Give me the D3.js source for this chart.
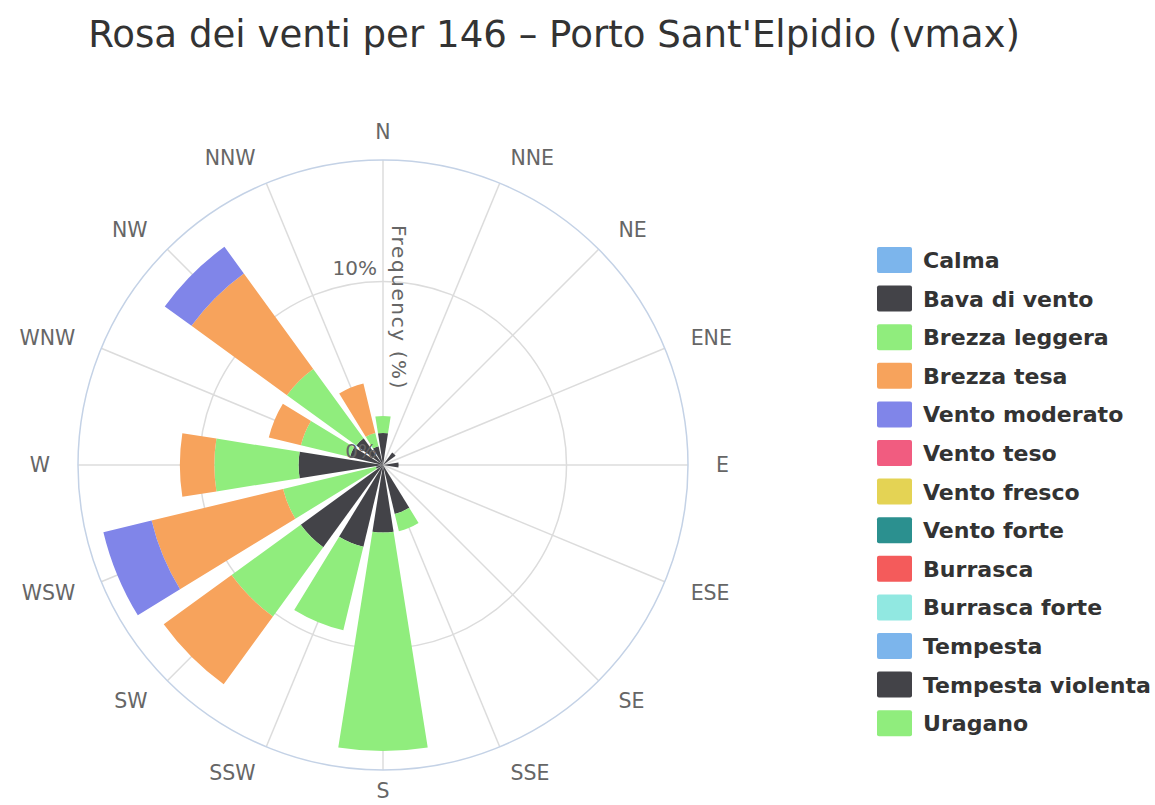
<!DOCTYPE html>
<html>
<head>
<meta charset="utf-8">
<script src="https://d3js.org/d3.v7.min.js"></script>
<style>
  body { margin: 0; background: #fff; }
  text { font-family: "DejaVu Sans", sans-serif; }
</style>
</head>
<body>
<script>

var width = 1155, height = 805;
var cx = 383, cy = 465, outerR = 305;

// categories
var directions = ["N", "NNE", "NE", "ENE", "E", "ESE", "SE", "SSE",
                  "S", "SSW", "SW", "WSW", "W", "WNW", "NW", "NNW"];

var seriesNames = ["Calma", "Bava di vento", "Brezza leggera", "Brezza tesa",
                   "Vento moderato", "Vento teso", "Vento fresco", "Vento forte",
                   "Burrasca", "Burrasca forte", "Tempesta", "Tempesta violenta", "Uragano"];

var seriesColors = ["#7cb5ec", "#434348", "#90ed7d", "#f7a35c", "#8085e9", "#f15c80",
                    "#e4d354", "#2b908f", "#f45b5b", "#91e8e1", "#7cb5ec", "#434348", "#90ed7d"];

// frequency (%) per direction, N ... NNW
var calma          = [0, 0, 0, 0, 0, 0, 0, 0, 0, 0, 0, 0, 0, 0, 0, 0];
var bavaDiVento    = [1.75, 0, 0.85, 0, 0.85, 0, 0, 2.74, 3.68, 4.58, 5.54, 0.4, 4.6, 1.85, 1.8, 1.05];
var brezzaLeggera  = [0.92, 0, 0, 0, 0, 0, 0, 0.97, 11.9, 4.68, 4.66, 5.2, 4.59, 2.75, 4.67, 0.75];
var brezzaTesa     = [0, 0, 0, 0, 0, 0, 0, 0, 0, 0, 4.57, 7.37, 1.88, 1.8, 6.43, 2.77];
var ventoModerato  = [0, 0, 0, 0, 0, 0, 0, 0, 0, 0, 0, 2.7, 0, 0, 1.8, 0];
var ventoTeso      = [0, 0, 0, 0, 0, 0, 0, 0, 0, 0, 0, 0, 0, 0, 0, 0];
var ventoFresco    = [0, 0, 0, 0, 0, 0, 0, 0, 0, 0, 0, 0, 0, 0, 0, 0];
var ventoForte     = [0, 0, 0, 0, 0, 0, 0, 0, 0, 0, 0, 0, 0, 0, 0, 0];
var burrasca       = [0, 0, 0, 0, 0, 0, 0, 0, 0, 0, 0, 0, 0, 0, 0, 0];
var burrascaForte  = [0, 0, 0, 0, 0, 0, 0, 0, 0, 0, 0, 0, 0, 0, 0, 0];
var tempesta       = [0, 0, 0, 0, 0, 0, 0, 0, 0, 0, 0, 0, 0, 0, 0, 0];
var tempestaViol   = [0, 0, 0, 0, 0, 0, 0, 0, 0, 0, 0, 0, 0, 0, 0, 0];
var uragano        = [0, 0, 0, 0, 0, 0, 0, 0, 0, 0, 0, 0, 0, 0, 0, 0];

var yTicks = [0, 10];
var yMax = 16.62;

var allSeries = [calma, bavaDiVento, brezzaLeggera, brezzaTesa, ventoModerato, ventoTeso,
                 ventoFresco, ventoForte, burrasca, burrascaForte, tempesta, tempestaViol, uragano];

var table = directions.map(function(d, i) {
  var row = {dir: d};
  seriesNames.forEach(function(name, k) { row[name] = allSeries[k][i]; });
  return row;
});

var svg = d3.select("body").append("svg")
            .attr("width", width)
            .attr("height", height);

var step = 2 * Math.PI / directions.length;
var angle = d3.scaleBand()
              .domain(directions)
              .range([-step / 2, 2 * Math.PI - step / 2])
              .paddingInner(0.2)
              .paddingOuter(0.1);

var r = d3.scaleLinear().domain([0, yMax]).range([0, outerR]);

var color = d3.scaleOrdinal().domain(seriesNames).range(seriesColors);

function mid(d) { return angle(d) + angle.bandwidth() / 2; }

var g = svg.append("g").attr("transform", "translate(" + cx + "," + cy + ")");

// radial grid lines
g.selectAll(".spoke")
  .data(directions)
  .enter().append("line")
  .attr("x1", 0).attr("y1", 0)
  .attr("x2", function(d) { return outerR * Math.sin(mid(d)); })
  .attr("y2", function(d) { return -outerR * Math.cos(mid(d)); })
  .attr("stroke", "#dcdcdc")
  .attr("stroke-width", 1.5);

// circular grid
g.selectAll(".ring")
  .data(yTicks.filter(function(t) { return t > 0; }))
  .enter().append("circle")
  .attr("r", function(t) { return r(t); })
  .attr("fill", "none")
  .attr("stroke", "#dcdcdc")
  .attr("stroke-width", 1.5);

g.append("circle")
  .attr("r", outerR)
  .attr("fill", "none")
  .attr("stroke", "#c4d2e6")
  .attr("stroke-width", 1.5);

// stacked bars
var stacked = d3.stack().keys(seriesNames)(table);

var arc = d3.arc()
  .innerRadius(function(d) { return r(d[0]); })
  .outerRadius(function(d) { return r(d[1]); })
  .startAngle(function(d) { return angle(d.data.dir); })
  .endAngle(function(d) { return angle(d.data.dir) + angle.bandwidth(); });

g.selectAll(".layer")
  .data(stacked)
  .enter().append("g")
  .attr("fill", function(d) { return color(d.key); })
  .selectAll("path")
  .data(function(d) { return d.filter(function(p) { return p[1] > p[0]; }); })
  .enter().append("path")
  .attr("d", arc);

// y axis labels
g.selectAll(".ylab")
  .data(yTicks)
  .enter().append("text")
  .attr("x", -6)
  .attr("y", function(t) { return -r(t) - 7; })
  .attr("text-anchor", "end")
  .attr("font-size", 20)
  .attr("fill", "#666")
  .text(function(t) { return t + "%"; });

g.append("text")
  .attr("transform", "translate(9," + (-outerR / 2 - 5) + ") rotate(90)")
  .attr("text-anchor", "middle")
  .attr("font-size", 20)
  .attr("letter-spacing", 1.6)
  .attr("fill", "#666")
  .text("Frequency (%)");

// direction labels
g.selectAll(".xlab")
  .data(directions)
  .enter().append("text")
  .attr("x", function(d) { return 333 * Math.sin(mid(d)); })
  .attr("y", function(d) { return Math.min(-333 * Math.cos(mid(d)), height - cy - 14); })
  .attr("dy", "0.36em")
  .attr("text-anchor", function(d) {
    var s = Math.sin(mid(d));
    return s > 0.1 ? "start" : (s < -0.1 ? "end" : "middle");
  })
  .attr("font-size", 20.5)
  .attr("fill", "#666")
  .text(function(d) { return d; });

// title
var title = svg.append("text")
  .attr("x", 554)
  .attr("y", 47)
  .attr("text-anchor", "middle")
  .attr("font-size", 34)
  .attr("fill", "#333")
  .text("Rosa dei venti per 146 \u2013 Porto Sant'Elpidio (vmax)");
var tw = title.node().getComputedTextLength();
title.attr("font-size", 34 * 932 / tw);

// legend
var legend = svg.append("g").attr("transform", "translate(877,247)");
var item = legend.selectAll(".item")
  .data(seriesNames)
  .enter().append("g")
  .attr("transform", function(d, i) { return "translate(0," + (i * 38.6) + ")"; });

item.append("rect")
  .attr("width", 35)
  .attr("height", 26)
  .attr("rx", 2)
  .attr("fill", function(d) { return color(d); });

var labels = item.append("text")
  .attr("x", 46)
  .attr("y", 13)
  .attr("dy", "0.36em")
  .attr("font-size", 20)
  .attr("font-weight", "bold")
  .attr("fill", "#333")
  .text(function(d) { return d; });

var lw = labels.filter(function(d) { return d === "Tempesta violenta"; }).node().getComputedTextLength();
labels.attr("font-size", 20 * 228 / lw);

</script>
</body>
</html>
